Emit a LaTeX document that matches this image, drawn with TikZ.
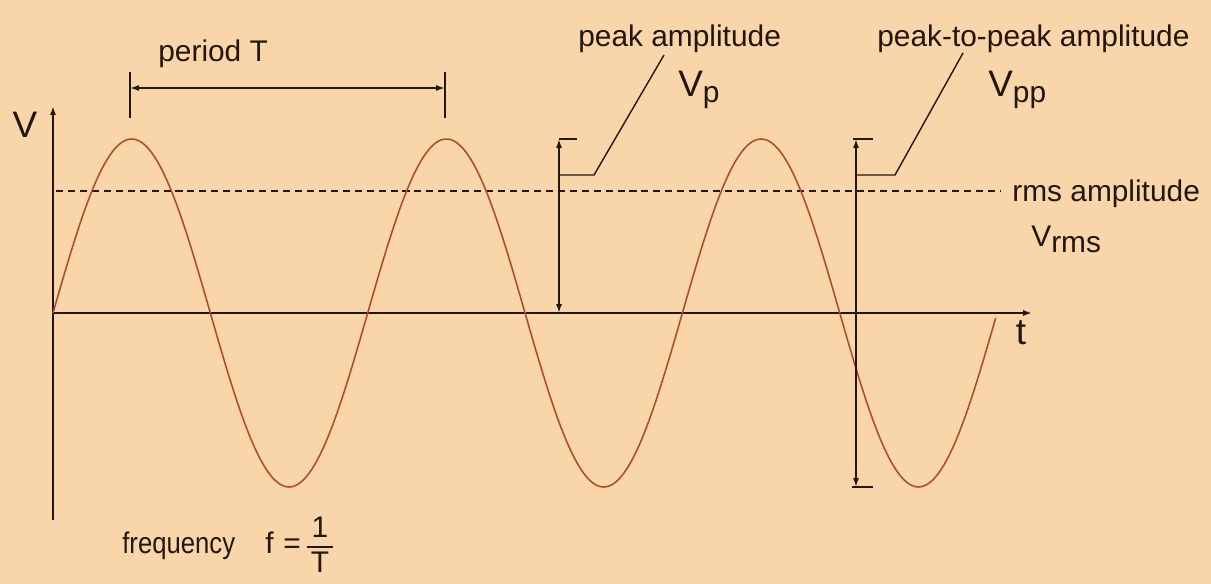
\documentclass[tikz,border=0pt]{standalone}
\usepackage{fontspec}
\usepackage{graphicx}
\setmainfont{Liberation Sans}
\usetikzlibrary{arrows.meta}
\definecolor{bg}{RGB}{248,214,170}
\definecolor{ink}{RGB}{35,22,15}
\definecolor{wave}{RGB}{172,78,42}
\begin{document}
\begin{tikzpicture}[x=0.02cm,y=-0.02cm,
  inkline/.style={draw=ink, line width=1.1pt},
  thinline/.style={draw=ink, line width=0.8pt},
  onetip/.style={-{Latex[length=5pt,width=3.4pt]}},
  twotips/.style={{Latex[length=5pt,width=3.4pt]}-{Latex[length=5pt,width=3.4pt]}},
  lbl/.style={font=\fontsize{17}{20}\selectfont, text=ink, inner sep=0pt},
  biglbl/.style={font=\fontsize{21}{24}\selectfont, text=ink, inner sep=0pt},
  rmsline/.style={draw=ink, line width=0.8pt, dash pattern=on 4pt off 2.8pt}]
\fill[bg] (0,0) rectangle (1211,584);
\useasboundingbox (0,0) rectangle (1211,584);

% axes
\coordinate (O) at (53,313);
\coordinate (Ytop) at (53,106);
\coordinate (Ybot) at (53,520);
\coordinate (Xend) at (1032,313);
\draw[inkline] (Ybot) -- (O);
\draw[inkline,onetip] (O) -- (Ytop);
\draw[inkline,onetip] (O) -- (Xend);

% rms dashed line
\coordinate (R1) at (56,191);
\coordinate (R2) at (1000,191);
\draw[rmsline] (R1) -- (R2);

% sine wave
\draw[wave, line width=0.9pt] plot[domain=0:3, samples=400] ({53+314.7*\x}, {313-174*sin(360*\x)});

% period T
\coordinate (P1a) at (130,72); \coordinate (P1b) at (130,118);
\coordinate (P2a) at (445,72); \coordinate (P2b) at (445,118);
\coordinate (P1m) at (130,88); \coordinate (P2m) at (445,88);
\draw[thinline] (P1a) -- (P1b);
\draw[thinline] (P2a) -- (P2b);
\draw[inkline,twotips] (P1m) -- (P2m);
\node[lbl,anchor=base west] (period) at (158,62) {period T};

% Vp
\coordinate (VpTop) at (559,139);
\coordinate (VpBot) at (559,313);
\coordinate (VpTick) at (577,139);
\coordinate (VpL1) at (559,175);
\coordinate (VpL2) at (594,175);
\coordinate (VpL3) at (664,55);
\draw[thinline] (VpTop) -- (VpTick);
\draw[inkline,twotips] (VpBot) -- (VpTop);
\draw[thinline] (VpL1) -- (VpL2) -- (VpL3);
\node[lbl,anchor=base west] (peak) at (578,47) {peak amplitude};
\node[biglbl,anchor=base west] (vp) at (678,97) {V\lower3pt\hbox{\fontsize{17}{20}\selectfont p}};

% Vpp
\coordinate (VppTop) at (856,139);
\coordinate (VppBot) at (856,487);
\coordinate (VppT1) at (853,139); \coordinate (VppT2) at (873,139);
\coordinate (VppB1) at (852,487); \coordinate (VppB2) at (873,487);
\coordinate (VppL1) at (856,175);
\coordinate (VppL2) at (895,175);
\coordinate (VppL3) at (963,53);
\draw[thinline] (VppT1) -- (VppT2);
\draw[thinline] (VppB1) -- (VppB2);
\draw[inkline,twotips] (VppBot) -- (VppTop);
\draw[thinline] (VppL1) -- (VppL2) -- (VppL3);
\node[lbl,anchor=base west] (p2p) at (877,47) {peak-to-peak amplitude};
\node[biglbl,anchor=base west] (vpp) at (988,97) {V\lower3pt\hbox{\fontsize{17}{20}\selectfont pp}};

% rms labels
\node[lbl,anchor=base west] (rms) at (1012,202) {rms amplitude};
\node[lbl,anchor=base west] (vrms) at (1031,247) {V\lower3.4pt\hbox{rms}};

% axis labels
\node[biglbl] (vlab) at (25,125) {V};
\node[biglbl] (tlab) at (1021,333) {t};

% frequency
\node[lbl,anchor=base west] (freq) at (122,553) {\scalebox{0.86}[1]{frequency}};
\node[lbl,anchor=base west] (f) at (265,553) {f};
\node[lbl,anchor=base west] (eq) at (283,553) {=};
\node[lbl,anchor=center] (frac) at (320,548) {\setlength{\arrayrulewidth}{0.9pt}\begin{tabular}{@{}c@{}}\,1\,\\[-1pt]\hline T\end{tabular}};
\end{tikzpicture}
\end{document}
